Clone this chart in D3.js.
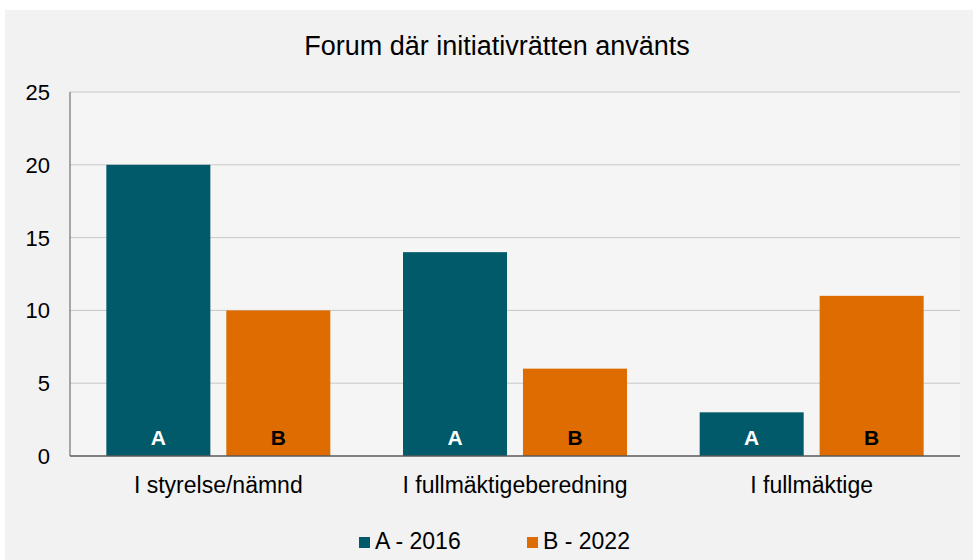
<!DOCTYPE html>
<meta charset="utf-8">
<style>
    body { margin: 0; background: #fff; }
    text { font-family: "Liberation Sans", Arial, sans-serif; fill: #000; }
    .grid line { stroke: #c8c8c8; stroke-width: 1; }
</style>
<svg width="973" height="560"></svg>
<script src="https://d3js.org/d3.v7.min.js"></script>
<script>

    var categories = ["I styrelse/nämnd", "I fullmäktigeberedning", "I fullmäktige"];
    var seriesNames = ["A - 2016", "B - 2022"];
    var seriesLetters = ["A", "B"];
    var values2016 = [20, 14, 3];
    var values2022 = [10, 6, 11];
    var yTicks = [0, 5, 10, 15, 20, 25];

    var colors = ["#005a6a", "#df6c00"];
    var letterColors = ["#fff", "#000"];

    var svg = d3.select("svg");

    // background panel
    svg.append("rect")
        .attr("x", 5).attr("y", 10)
        .attr("width", 968).attr("height", 550)
        .attr("fill", "#f2f2f2");

    var x0 = d3.scaleBand().domain(categories).range([70, 960]);
    var y = d3.scaleLinear().domain([0, 25]).range([456, 92]);
    var x1 = d3.scaleBand().domain(seriesNames).range([0, x0.bandwidth()])
        .paddingInner(0.133).paddingOuter(0.303);

    svg.append("rect")
        .attr("x", 70).attr("y", 92)
        .attr("width", 890).attr("height", 364)
        .attr("fill", "#f5f5f5");

    svg.append("text")
        .attr("x", 497).attr("y", 55)
        .attr("text-anchor", "middle")
        .style("font-size", "27px")
        .text("Forum där initiativrätten använts");

    var grid = svg.append("g").attr("class", "grid");
    grid.selectAll("line")
        .data(yTicks.filter(function(d) { return d > 0; }))
        .enter().append("line")
        .attr("x1", 70).attr("x2", 960)
        .attr("y1", function(d) { return y(d); })
        .attr("y2", function(d) { return y(d); });

    svg.selectAll(".ytick")
        .data(yTicks)
        .enter().append("text")
        .attr("class", "ytick")
        .attr("x", 50)
        .attr("y", function(d) { return y(d) + 8; })
        .attr("text-anchor", "end")
        .style("font-size", "22px")
        .text(function(d) { return d; });

    var rows = categories.map(function(c, i) {
        return {cat: c, vals: [values2016[i], values2022[i]]};
    });

    var groups = svg.selectAll(".grp")
        .data(rows)
        .enter().append("g")
        .attr("class", "grp")
        .attr("transform", function(d) { return "translate(" + x0(d.cat) + ",0)"; });

    groups.selectAll("rect")
        .data(function(d) { return d.vals.map(function(v, j) { return {v: v, j: j}; }); })
        .enter().append("rect")
        .attr("x", function(d) { return x1(seriesNames[d.j]); })
        .attr("width", x1.bandwidth())
        .attr("y", function(d) { return y(d.v); })
        .attr("height", function(d) { return y(0) - y(d.v); })
        .attr("fill", function(d) { return colors[d.j]; });

    groups.selectAll(".lbl")
        .data(function(d) { return d.vals.map(function(v, j) { return {v: v, j: j}; }); })
        .enter().append("text")
        .attr("class", "lbl")
        .attr("x", function(d) { return x1(seriesNames[d.j]) + x1.bandwidth() / 2; })
        .attr("y", 445)
        .attr("text-anchor", "middle")
        .style("font-size", "21px")
        .style("font-weight", "bold")
        .style("fill", function(d) { return letterColors[d.j]; })
        .text(function(d) { return seriesLetters[d.j]; });

    // axes lines
    svg.append("line")
        .attr("x1", 70).attr("x2", 70).attr("y1", 92).attr("y2", 456)
        .attr("stroke", "#595959").attr("stroke-width", 1);
    svg.append("line")
        .attr("x1", 70).attr("x2", 960).attr("y1", 456).attr("y2", 456)
        .attr("stroke", "#595959").attr("stroke-width", 1.5);

    svg.selectAll(".xlab")
        .data(categories)
        .enter().append("text")
        .attr("class", "xlab")
        .attr("x", function(d) { return x0(d) + x0.bandwidth() / 2; })
        .attr("y", 493)
        .attr("text-anchor", "middle")
        .style("font-size", "23px")
        .text(function(d) { return d; });

    var legendX = [359, 527];
    var legend = svg.selectAll(".leg")
        .data(seriesNames)
        .enter().append("g")
        .attr("class", "leg")
        .attr("transform", function(d, i) { return "translate(" + legendX[i] + ",549)"; });
    legend.append("rect")
        .attr("x", 0).attr("y", -12)
        .attr("width", 11).attr("height", 11)
        .attr("fill", function(d, i) { return colors[i]; });
    legend.append("text")
        .attr("x", 16).attr("y", 0)
        .style("font-size", "23px")
        .text(function(d) { return d; });

</script>
